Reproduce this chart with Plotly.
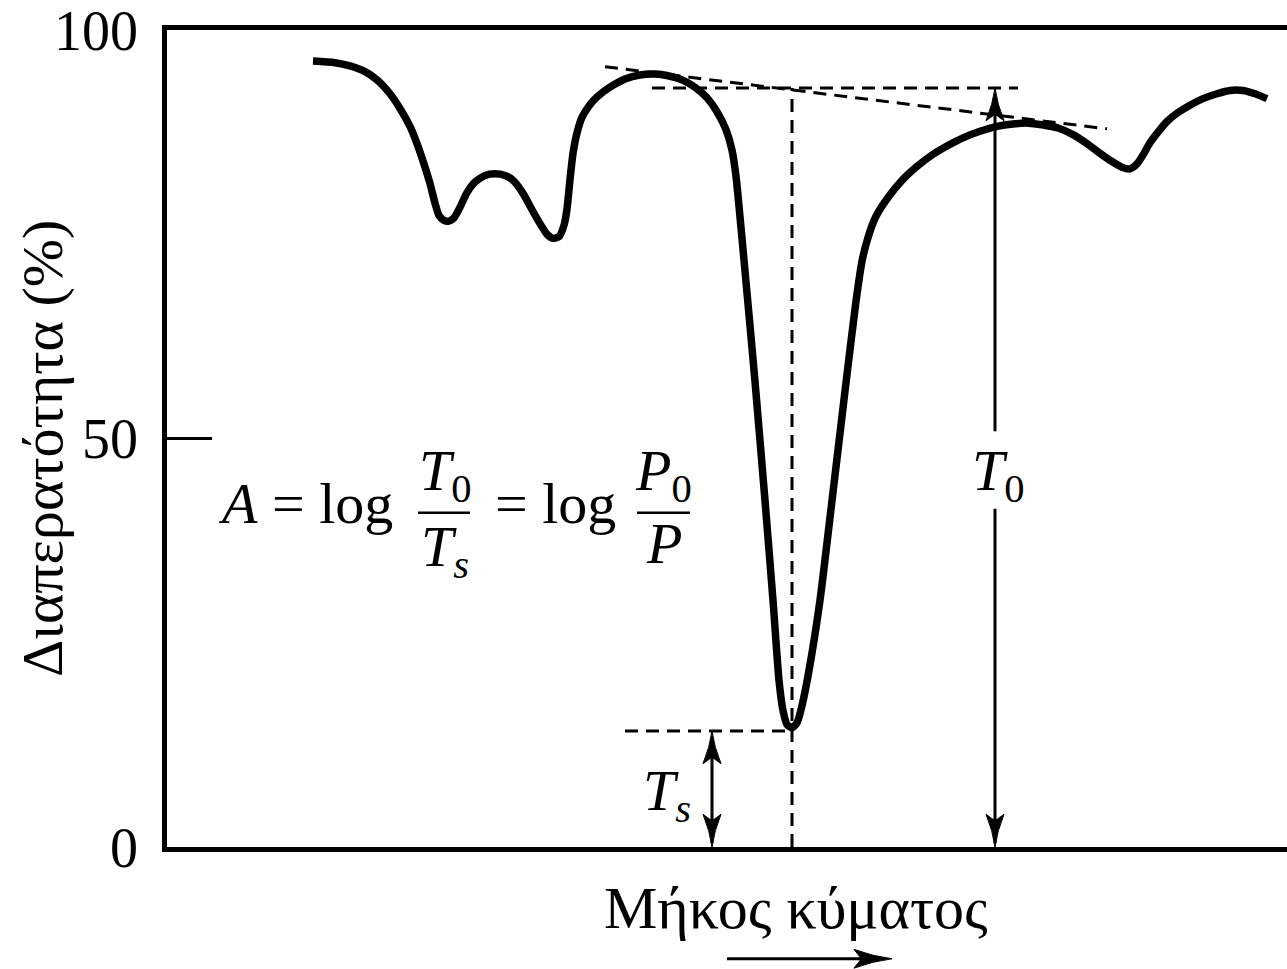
import plotly.graph_objects as go

# Transmission spectrum (arbitrary wavelength units vs. % transmittance)
wavelength = [14.6, 16.8, 18.3, 19.8, 21.0, 22.3, 23.3, 24.3, 25.0, 25.7, 26.3, 26.8, 27.2, 27.7,
              28.2, 28.7, 29.3, 30.0, 30.8, 31.8, 32.8, 33.8, 34.6, 35.6, 36.5, 37.3, 38.0, 38.6,
              39.2, 39.7, 40.0, 40.3, 40.6, 41.0, 41.5, 42.2, 43.0, 44.3, 45.8, 47.3, 48.8, 50.1,
              51.5, 52.8, 54.0, 55.0, 55.9, 56.5, 56.9, 57.8, 58.8, 59.8, 60.6, 61.2, 61.6, 62.0,
              62.5, 63.0, 63.5, 64.2, 65.3, 66.5, 67.8, 68.9, 69.5, 70.1, 70.9, 72.1, 73.5, 75.0,
              76.5, 78.0, 79.6, 81.3, 83.0, 84.6, 86.1, 87.5, 89.1, 90.6, 92.0, 93.3, 94.5, 95.5,
              96.3, 97.0, 97.6, 98.3, 99.1, 100.0, 101.1, 102.3, 103.6, 105.0, 106.3, 107.6, 108.8,
              110.0]
transmittance = [96.2, 96.0, 95.6, 94.9, 93.9, 92.2, 90.4, 88.2, 86.1, 83.6, 81.2, 78.8, 77.3, 76.7,
                 76.6, 77.0, 78.3, 80.1, 81.4, 82.2, 82.4, 82.2, 81.6, 80.0, 78.0, 76.3, 75.0, 74.5,
                 74.7, 76.1, 78.1, 81.7, 84.9, 87.4, 89.3, 90.7, 91.8, 93.0, 94.0, 94.5, 94.6, 94.4,
                 93.9, 93.0, 91.7, 90.0, 87.8, 85.3, 82.1, 70.5, 57.0, 42.4, 30.2, 20.4, 16.7, 15.0,
                 14.6, 15.2, 17.3, 21.6, 30.2, 42.4, 55.8, 66.8, 71.7, 74.6, 77.2, 79.5, 81.6, 83.3,
                 84.7, 85.8, 86.8, 87.6, 88.2, 88.5, 88.6, 88.4, 88.0, 87.2, 86.1, 84.9, 83.9, 83.2,
                 83.0, 83.6, 84.7, 86.2, 87.5, 88.8, 89.9, 90.8, 91.6, 92.2, 92.6, 92.6, 92.2,
                 91.6]

# Construction values
T0 = 92.9                 # baseline transmittance at the band
Ts = 14.2                 # transmittance at band minimum
band_x = 62.5             # band centre
t0_arrow_x = 82.8
ts_arrow_x = 54.5
t0_gap = [41.4, 50.9]     # gap in T0 arrow for its label
tangent_x = [43.8, 94.0]
tangent_y = [95.5, 87.9]
t0_line_x = [48.5, 85.1]
ts_line_x = [45.8, band_x]
y_ticks = [0, 50, 100]

FONT = "Liberation Serif"
BLACK = "black"

fig = go.Figure()
fig.add_trace(go.Scatter(
    x=wavelength, y=transmittance, mode="lines",
    line=dict(color=BLACK, width=7.5, shape="spline", smoothing=0.6),
    hoverinfo="skip", showlegend=False))

shapes = []
dash = "13px,8px"


def seg(x0, y0, x1, y1, width=2.5, dash_style=None, ref=("x", "y")):
    ln = dict(color=BLACK, width=width)
    if dash_style:
        ln["dash"] = dash_style
    shapes.append(dict(type="line", xref=ref[0], yref=ref[1],
                       x0=x0, y0=y0, x1=x1, y1=y1, line=ln))


def head(x, y, along, across, vertical=True, ref=("x", "y")):
    """Slender barbed arrowhead with tip at (x, y); `along` signed length."""
    if vertical:
        pts = [(x, y),
               (x - 0.25 * across, y - 0.5 * along), (x - across, y - along),
               (x, y - 0.8 * along),
               (x + across, y - along), (x + 0.25 * across, y - 0.5 * along)]
    else:
        pts = [(x, y),
               (x - 0.5 * along, y + 0.25 * across), (x - along, y + across),
               (x - 0.8 * along, y),
               (x - along, y - across), (x - 0.5 * along, y - 0.25 * across)]
    p = pts
    path = (f"M{p[0][0]},{p[0][1]} Q{p[1][0]},{p[1][1]} {p[2][0]},{p[2][1]} "
            f"L{p[3][0]},{p[3][1]} L{p[4][0]},{p[4][1]} "
            f"Q{p[5][0]},{p[5][1]} {p[0][0]},{p[0][1]} Z")
    shapes.append(dict(type="path", xref=ref[0], yref=ref[1], path=path,
                       fillcolor=BLACK, line=dict(color=BLACK, width=1)))


# dashed construction lines
seg(tangent_x[0], tangent_y[0], tangent_x[1], tangent_y[1], width=3, dash_style=dash)
seg(t0_line_x[0], T0, t0_line_x[1], T0, width=3, dash_style=dash)
seg(band_x, 0, band_x, T0, width=3, dash_style=dash)
seg(ts_line_x[0], Ts, ts_line_x[1], Ts, width=3, dash_style=dash)

# Ts double arrow
seg(ts_arrow_x, 0.5, ts_arrow_x, Ts - 1, width=3)
head(ts_arrow_x, Ts, 4.0, 0.9)
head(ts_arrow_x, 0, -4.0, 0.9)

# T0 double arrow with a gap for the label
seg(t0_arrow_x, 0.5, t0_arrow_x, t0_gap[0], width=3)
seg(t0_arrow_x, t0_gap[1], t0_arrow_x, T0 - 1, width=3)
head(t0_arrow_x, T0, 4.0, 0.9)
head(t0_arrow_x, 0, -4.0, 0.9)

# fraction bars of the formula
seg(25.1, 40.9, 30.3, 40.9, width=2.5)
seg(47.0, 40.9, 52.3, 40.9, width=2.5)

# wavelength direction arrow under the axis title
seg(0.5, -0.1368, 0.628, -0.1368, width=3, ref=("paper", "paper"))
head(0.6473, -0.1368, 0.034, 0.0115, vertical=False, ref=("paper", "paper"))

annotations = []


def txt(x, y, text, size=58, xanchor="center", yanchor="middle", ref=("x", "y"), angle=0):
    annotations.append(dict(x=x, y=y, xref=ref[0], yref=ref[1], text=text,
                            showarrow=False, xanchor=xanchor, yanchor=yanchor,
                            textangle=angle,
                            font=dict(family=FONT, size=size, color=BLACK)))


txt(4.9, 42.0, "<i>A</i> = log", xanchor="left")
txt(27.8, 45.6, "<i>T</i><sub>0</sub>")
txt(27.8, 36.3, "<i>T</i><sub><i>s</i></sub>")
txt(32.6, 42.0, "= log", xanchor="left")
txt(49.6, 45.6, "<i>P</i><sub>0</sub>")
txt(49.7, 37.1, "<i>P</i>")
txt(83.1, 45.6, "<i>T</i><sub>0</sub>")
txt(50.0, 6.4, "<i>T</i><sub><i>s</i></sub>")

txt(0.5616, -0.0745, "Μήκος κύματος", size=60, ref=("paper", "paper"))
txt(-0.111, 0.488, "Διαπερατότητα (%)", size=58, ref=("paper", "paper"), angle=-90)

fig.update_layout(
    width=1287, height=969,
    margin=dict(l=167, r=0, t=28, b=122),
    paper_bgcolor="white", plot_bgcolor="white",
    font=dict(family=FONT, color=BLACK),
    shapes=shapes, annotations=annotations,
    xaxis=dict(range=[0, 112], showline=True, mirror=True, linewidth=4.5, linecolor=BLACK,
               showgrid=False, zeroline=False, showticklabels=False, ticks=""),
    yaxis=dict(range=[0, 100], showline=True, mirror=False, linewidth=4.5, linecolor=BLACK,
               showgrid=False, zeroline=False, tickvals=y_ticks,
               ticks="inside", ticklen=45, tickwidth=2.5, tickcolor=BLACK,
               ticklabelstandoff=13, ticklabeloverflow="allow",
               tickfont=dict(family=FONT, size=56, color=BLACK)),
)

fig.write_html("out.html")
